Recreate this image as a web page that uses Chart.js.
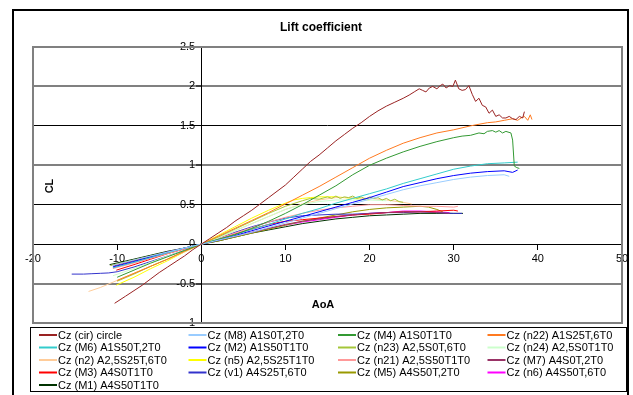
<!DOCTYPE html>
<html>
<head>
<meta charset="utf-8">
<script src="https://cdn.jsdelivr.net/npm/chart.js@4/dist/chart.umd.min.js"></script>
<style>
  html, body { margin: 0; padding: 0; background: #fff; }
  #wrap { width: 633px; height: 395px; }
</style>
</head>
<body>
<div id="wrap"><canvas id="liftchart" width="633" height="395"></canvas></div>
<script>
// lift coefficient curves, AoA (deg) vs CL
const chartTitle = 'Lift coefficient';
const xTitle = 'AoA';
const yTitle = 'CL';
const xTicks = [-20, -10, 0, 10, 20, 30, 40, 50];
const yTicks = [-1, -0.5, 0, 0.5, 1, 1.5, 2, 2.5];

const aoaCir = [-10.3,-9,-8,-7,-6,-5,-4,-3,-2,-1,0,1,2,3,4,5,6,7,8,9,10,11,12,13,14,15,16,17,18,19,20,21,22,23,24,
  24.7,25.3,25.9,26.3,26.7,27.1,27.5,28,28.4,28.7,29.1,29.5,29.9,30.2,30.6,31,31.4,31.8,32.2,32.6,
  33,33.4,33.8,34.2,34.6,35,35.4,35.8,36.2,36.6,37,37.4,37.8,38.2,38.4];
const czCir = [-0.75,-0.66,-0.59,-0.52,-0.44,-0.36,-0.29,-0.22,-0.15,-0.07,0,0.07,0.14,0.21,0.29,0.36,0.43,0.51,0.59,0.67,0.75,
  0.85,0.95,1.05,1.13,1.22,1.31,1.39,1.47,1.54,1.62,1.69,1.75,1.80,1.85,
  1.89,1.93,1.97,1.95,1.93,1.98,2.0,1.97,2.01,2.03,1.98,2.01,2.0,2.08,1.97,1.95,1.96,2.01,1.90,1.81,
  1.85,1.76,1.74,1.66,1.70,1.62,1.64,1.60,1.60,1.62,1.59,1.58,1.62,1.60,1.68];

const aoaM8 = [-10.6,-8,-6,-4,-2,0,2,4,6,8,10,12,14,16,18,20,22,24,26,28,30,32,34,36,36.6];
const czM8 = [-0.27,-0.2,-0.15,-0.1,-0.05,0,0.05,0.1,0.15,0.21,0.27,0.33,0.39,0.45,0.51,0.57,0.63,0.69,0.74,0.78,0.82,0.85,0.87,0.88,0.86];

const aoaM4 = [-10,-8,-6,-4,-2,0,2,4,6,8,10,12,14,16,18,20,22,24,26,28,30,31,32,33,33.6,34,34.6,35,35.4,35.8,36.2,36.8,37,37.2,37.5,37.8];
const czM4 = [-0.42,-0.33,-0.24,-0.16,-0.08,0,0.06,0.12,0.2,0.29,0.39,0.5,0.62,0.74,0.88,1.0,1.09,1.17,1.24,1.3,1.35,
  1.37,1.38,1.41,1.4,1.43,1.44,1.42,1.44,1.41,1.43,1.41,1.32,0.99,0.97,0.96];

const aoaN22 = [-10,-8,-6,-4,-2,0,2,4,6,8,10,12,14,16,18,20,22,24,26,28,30,32,34,35,36,37,37.6,38,38.4,38.8,39.1,39.3];
const czN22 = [-0.46,-0.37,-0.28,-0.19,-0.09,0,0.1,0.2,0.3,0.4,0.51,0.62,0.73,0.85,0.97,1.09,1.19,1.28,1.35,1.41,1.45,1.5,1.54,
  1.55,1.57,1.59,1.57,1.6,1.62,1.57,1.64,1.58];

const aoaM6 = [-10.5,-8,-6,-4,-2,0,2,4,6,8,10,12,14,16,18,20,22,24,26,28,30,32,34,36,37.6];
const czM6 = [-0.3,-0.23,-0.17,-0.11,-0.05,0,0.06,0.12,0.19,0.25,0.32,0.39,0.45,0.52,0.58,0.64,0.7,0.77,0.83,0.89,0.95,0.99,1.02,1.03,1.04];

const aoaM2 = [-10.5,-8,-6,-4,-2,0,2,4,6,8,10,12,14,16,18,20,22,24,26,28,30,32,34,36,37,37.6];
const czM2 = [-0.29,-0.22,-0.16,-0.1,-0.05,0,0.05,0.11,0.17,0.23,0.29,0.35,0.41,0.47,0.53,0.59,0.66,0.73,0.78,0.83,0.87,0.9,0.92,0.93,0.91,0.94];

const aoaN23 = [-10,-8,-6,-4,-2,0,2,4,6,8,10,12,13,14,15,15.5,16,16.5,17,17.5,18,18.5,19,19.5,20,20.5,21,21.5,22,22.5,23,23.5,24];
const czN23 = [-0.47,-0.38,-0.28,-0.19,-0.09,0,0.09,0.19,0.29,0.39,0.48,0.55,0.58,0.57,0.6,
  0.58,0.61,0.58,0.6,0.59,0.61,0.58,0.6,0.57,0.6,0.58,0.59,0.56,0.58,0.55,0.57,0.54,0.53];

const aoaN24 = [-10.5,-8,-6,-4,-2,0,2,4,6,8,10,12,14,16,18,20,22];
const czN24 = [-0.4,-0.31,-0.23,-0.15,-0.08,0,0.08,0.17,0.26,0.35,0.44,0.5,0.54,0.56,0.56,0.56,0.55];

const aoaN2 = [-13.4,-12,-10,-8,-6,-4,-2,0,2,4,6,8,10,12,14,16,18,20,22,24,25];
const czN2 = [-0.6,-0.55,-0.46,-0.37,-0.28,-0.19,-0.1,0,0.08,0.17,0.26,0.35,0.44,0.51,0.56,0.59,0.59,0.58,0.56,0.53,0.51];

const aoaN5 = [-10.1,-8,-6,-4,-2,0,2,4,6,8,10,11,12,13,14,15,16,17,18,19,20];
const czN5 = [-0.52,-0.42,-0.31,-0.21,-0.1,0,0.11,0.22,0.33,0.43,0.52,0.56,0.58,0.59,0.6,0.6,0.6,0.59,0.58,0.57,0.56];

const aoaN21 = [-10.5,-8,-6,-4,-2,0,2,4,6,8,10,12,14,16,18,20,22,24,26,28,30,30.5];
const czN21 = [-0.31,-0.24,-0.18,-0.12,-0.06,0,0.07,0.14,0.21,0.28,0.34,0.39,0.43,0.46,0.48,0.5,0.5,0.49,0.48,0.48,0.47,0.48];

const aoaM7 = [-10.5,-8,-6,-4,-2,0,2,4,6,8,10,12,14,16,18,20,22,24,26,28,29.5];
const czM7 = [-0.28,-0.21,-0.16,-0.1,-0.05,0,0.05,0.1,0.15,0.2,0.25,0.29,0.32,0.35,0.37,0.39,0.4,0.41,0.41,0.4,0.39];

const aoaM3 = [-10.1,-8,-6,-4,-2,0,2,4,6,8,10,12,14,16,18,20,22,24,26,28,30,30.5];
const czM3 = [-0.33,-0.26,-0.19,-0.12,-0.06,0,0.06,0.13,0.19,0.25,0.29,0.31,0.33,0.35,0.37,0.38,0.4,0.41,0.41,0.42,0.43,0.42];

const aoaV1 = [-15.4,-14,-13,-12,-11,-10,-8,-6,-4,-2,0,2,4,6,8,10,12,14,16,18,20,22,24,26,28,30,31];
const czV1 = [-0.38,-0.38,-0.375,-0.37,-0.365,-0.35,-0.29,-0.22,-0.15,-0.08,0,0.07,0.15,0.22,0.28,0.33,0.36,0.37,0.38,0.38,0.39,0.4,0.4,0.41,0.4,0.39,0.39];

const aoaM5 = [-10.8,-8,-6,-4,-2,0,2,4,6,8,10,12,14,16,18,20,22,24,26,27,28,28.7];
const czM5 = [-0.27,-0.2,-0.15,-0.1,-0.05,0,0.04,0.09,0.14,0.19,0.24,0.29,0.33,0.37,0.41,0.44,0.46,0.47,0.48,0.47,0.44,0.41];

const aoaN6 = [-10.5,-8,-6,-4,-2,0,2,4,6,8,10,12,14,16,18,20,22,24,26,28,29.5];
const czN6 = [-0.3,-0.23,-0.17,-0.11,-0.06,0,0.05,0.1,0.15,0.2,0.24,0.28,0.31,0.34,0.37,0.39,0.4,0.42,0.42,0.41,0.4];

const aoaM1 = [-10.9,-8,-6,-4,-2,0,2,4,6,8,10,12,14,16,18,20,22,24,26,28,30,31.1];
const czM1 = [-0.26,-0.19,-0.14,-0.09,-0.05,0,0.04,0.09,0.14,0.18,0.22,0.26,0.29,0.32,0.34,0.36,0.37,0.38,0.39,0.39,0.39,0.39];

const series = [
  {label: 'Cz (cir) circle', aoa: aoaCir, cz: czCir, color: '#992222'},
  {label: 'Cz (M8) A1S0T,2T0', aoa: aoaM8, cz: czM8, color: '#99ccff'},
  {label: 'Cz (M4) A1S0T1T0', aoa: aoaM4, cz: czM4, color: '#339933'},
  {label: 'Cz (n22) A1S25T,6T0', aoa: aoaN22, cz: czN22, color: '#ff7a20'},
  {label: 'Cz (M6) A1S50T,2T0', aoa: aoaM6, cz: czM6, color: '#33cccc'},
  {label: 'Cz (M2) A1S50T1T0', aoa: aoaM2, cz: czM2, color: '#0000ff'},
  {label: 'Cz (n23) A2,5S0T,6T0', aoa: aoaN23, cz: czN23, color: '#a4c639'},
  {label: 'Cz (n24) A2,5S0T1T0', aoa: aoaN24, cz: czN24, color: '#ccffcc'},
  {label: 'Cz (n2) A2,5S25T,6T0', aoa: aoaN2, cz: czN2, color: '#ffcc99'},
  {label: 'Cz (n5) A2,5S25T1T0', aoa: aoaN5, cz: czN5, color: '#ffff00'},
  {label: 'Cz (n21) A2,5S50T1T0', aoa: aoaN21, cz: czN21, color: '#ff9999'},
  {label: 'Cz (M7) A4S0T,2T0', aoa: aoaM7, cz: czM7, color: '#993366'},
  {label: 'Cz (M3) A4S0T1T0', aoa: aoaM3, cz: czM3, color: '#ff0000'},
  {label: 'Cz (v1) A4S25T,6T0', aoa: aoaV1, cz: czV1, color: '#3333cc'},
  {label: 'Cz (M5) A4S50T,2T0', aoa: aoaM5, cz: czM5, color: '#999900'},
  {label: 'Cz (n6) A4S50T,6T0', aoa: aoaN6, cz: czN6, color: '#ff00ff'},
  {label: 'Cz (M1) A4S50T1T0', aoa: aoaM1, cz: czM1, color: '#003300'}
];

const FONT = '"Liberation Sans", Arial, sans-serif';
Chart.defaults.font.family = FONT;
Chart.defaults.font.size = 11;
Chart.defaults.color = '#000';

// excel-style frame, titles and 4-column legend
const decor = {
  id: 'decor',
  afterDraw(chart) {
    const ctx = chart.ctx;
    const a = chart.chartArea;
    ctx.save();
    ctx.strokeStyle = '#808080';
    ctx.lineWidth = 2;
    ctx.strokeRect(a.left, a.top, a.right - a.left, a.bottom - a.top);
    ctx.strokeStyle = '#000';
    ctx.strokeRect(13, 10, 615, 400);

    ctx.fillStyle = '#000';
    ctx.textAlign = 'center';
    ctx.textBaseline = 'middle';
    ctx.font = 'bold 12px ' + FONT;
    ctx.fillText(chartTitle, 321, 28);
    ctx.font = 'bold 11px ' + FONT;
    ctx.fillText(xTitle, 323, 305);
    ctx.save();
    ctx.translate(50, 186);
    ctx.rotate(-Math.PI / 2);
    ctx.fillText(yTitle, 0, 0);
    ctx.restore();

    // legend
    ctx.fillStyle = '#fff';
    ctx.fillRect(30, 327, 596, 65);
    ctx.strokeStyle = '#000';
    ctx.lineWidth = 1;
    ctx.strokeRect(30.5, 327.5, 596, 64);
    ctx.font = '11px ' + FONT;
    ctx.textAlign = 'left';
    chart.data.datasets.forEach((ds, i) => {
      const x = 39 + (i % 4) * 149.5;
      const y = 335 + Math.floor(i / 4) * 12.5;
      ctx.strokeStyle = ds.borderColor;
      ctx.lineWidth = 2;
      ctx.beginPath();
      ctx.moveTo(x, y);
      ctx.lineTo(x + 18, y);
      ctx.stroke();
      ctx.fillStyle = '#000';
      ctx.fillText(ds.label, x + 19, y + 0.5);
    });
    ctx.restore();
  }
};

const grayLines = [2.5, 2, 1, -0.5, -1];

new Chart(document.getElementById('liftchart'), {
  type: 'line',
  data: {
    datasets: series.map(s => ({
      label: s.label,
      data: s.aoa.map((x, i) => ({x: x, y: s.cz[i]})),
      borderColor: s.color,
      backgroundColor: s.color,
      borderWidth: 1,
      pointRadius: 0,
      tension: 0,
      fill: false
    }))
  },
  options: {
    responsive: false,
    animation: false,
    layout: {padding: {left: 33, right: 11, top: 47, bottom: 72}},
    scales: {
      x: {
        type: 'linear',
        position: {y: 0},
        min: xTicks[0],
        max: xTicks[xTicks.length - 1],
        afterBuildTicks: sc => { sc.ticks = xTicks.map(v => ({value: v})); },
        ticks: {padding: 3, maxRotation: 0, font: {size: 11}},
        grid: {drawOnChartArea: false, drawTicks: true, tickLength: 5, tickColor: '#000', color: '#000'},
        border: {display: true, color: '#000', width: 1}
      },
      y: {
        type: 'linear',
        position: {x: 0},
        min: yTicks[0],
        max: yTicks[yTicks.length - 1],
        afterBuildTicks: sc => { sc.ticks = yTicks.map(v => ({value: v})); },
        ticks: {callback: v => v + '  ', font: {size: 11}},
        grid: {
          color: c => (c.tick && grayLines.includes(c.tick.value)) ? '#808080' : '#000',
          lineWidth: c => (c.tick && grayLines.includes(c.tick.value)) ? 2 : 1,
          tickColor: '#000',
          tickWidth: 1,
          tickLength: 5
        },
        border: {display: true, color: '#000', width: 1}
      }
    },
    plugins: {
      legend: {display: false},
      title: {display: false},
      tooltip: {enabled: false}
    }
  },
  plugins: [decor]
});
</script>
</body>
</html>
